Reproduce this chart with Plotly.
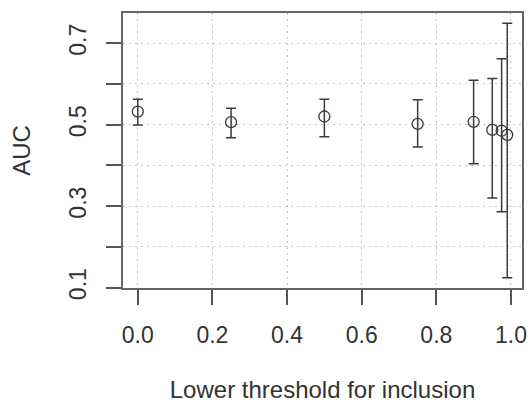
import plotly.graph_objects as go

threshold = [0.0, 0.25, 0.5, 0.75, 0.9, 0.95, 0.975, 0.99]
auc = [0.532, 0.506, 0.520, 0.502, 0.507, 0.487, 0.485, 0.475]
auc_lower = [0.499, 0.468, 0.470, 0.445, 0.404, 0.320, 0.286, 0.124]
auc_upper = [0.562, 0.540, 0.562, 0.561, 0.609, 0.613, 0.662, 0.749]

y_ticks = [0.1, 0.2, 0.3, 0.4, 0.5, 0.6, 0.7]
y_labels = ["0.1", "", "0.3", "", "0.5", "", "0.7"]
x_ticks = [0.0, 0.2, 0.4, 0.6, 0.8, 1.0]

err_plus = [u - a for u, a in zip(auc_upper, auc)]
err_minus = [a - l for a, l in zip(auc, auc_lower)]

ink = "#3a3a3a"
font = "Liberation Sans, Arial, sans-serif"

fig = go.Figure()
fig.add_trace(
    go.Scatter(
        x=threshold,
        y=auc,
        mode="markers",
        marker=dict(symbol="circle-open", size=11, color=ink, line=dict(width=1.3, color=ink)),
        error_y=dict(
            type="data",
            symmetric=False,
            array=err_plus,
            arrayminus=err_minus,
            color=ink,
            thickness=1.5,
            width=5,
        ),
        showlegend=False,
    )
)

axis_common = dict(
    automargin=False,
    showline=True,
    linecolor="#666666",
    linewidth=1.5,
    mirror=True,
    ticks="outside",
    ticklen=15,
    tickwidth=1.5,
    tickcolor="#555555",
    showgrid=True,
    gridcolor="#c4c4c4",
    griddash="2px,4px",
    gridwidth=1.3,
    zeroline=False,
    tickfont=dict(family=font, size=23, color="#333333"),
)

fig.update_xaxes(
    range=[-0.0396, 1.0296],
    tickvals=x_ticks,
    ticktext=[f"{v:.1f}" for v in x_ticks],
    ticklabelstandoff=11,
    title=dict(text="Lower threshold for inclusion", font=dict(family=font, size=24, color="#333333"), standoff=37),
    **axis_common,
)
fig.update_yaxes(
    range=[0.099, 0.774],
    tickvals=y_ticks,
    ticktext=y_labels,
    tickangle=-90,
    ticklabelstandoff=11,
    title=dict(text="AUC", font=dict(family=font, size=24, color="#333333"), standoff=28),
    **axis_common,
)

fig.update_layout(
    width=530,
    height=403,
    margin=dict(l=123, r=8, t=13, b=115),
    plot_bgcolor="white",
    paper_bgcolor="white",
)

# drop the page's default body margin so the 530x403 figure fills the window
fig.write_html(
    "out.html",
    config={"displayModeBar": False},
    post_script="document.body.style.margin='0px';",
)
